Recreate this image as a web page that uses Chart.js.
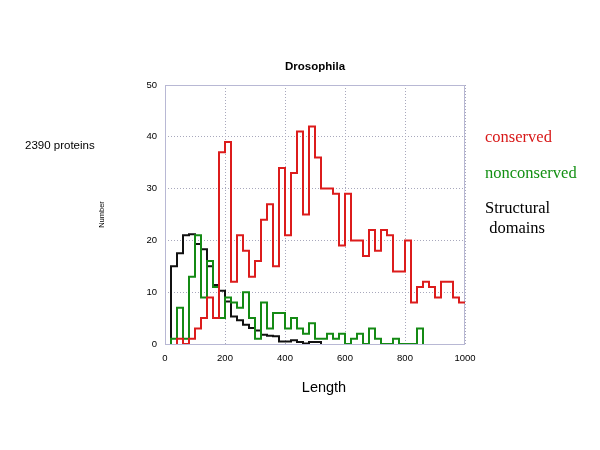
<!DOCTYPE html>
<html>
<head>
<meta charset="utf-8">
<script src="https://cdn.jsdelivr.net/npm/chart.js@4.4.0/dist/chart.umd.min.js"></script>
<style>
  body { margin: 0; background: #fff; }
  #wrap { position: relative; width: 600px; height: 450px; }
  .lbl { position: absolute; white-space: pre; line-height: 1; }
  .sans { font-family: "Liberation Sans", Arial, sans-serif; }
  .serif { font-family: "Liberation Serif", "Times New Roman", serif; font-size: 16.5px; }
</style>
</head>
<body>
<div id="wrap">
  <canvas id="lengthchart" width="600" height="450"></canvas>
  <div class="lbl sans" style="left:255px; top:61px; width:120px; text-align:center; font-size:11.5px; font-weight:bold;">Drosophila</div>
  <div class="lbl sans" style="left:25px; top:140px; font-size:11.5px;">2390 proteins</div>
  <div class="lbl sans" style="left:294px; top:380px; width:60px; text-align:center; font-size:14.5px;">Length</div>
  <div class="lbl serif" style="left:485px; top:129px; color:#d81818;">conserved</div>
  <div class="lbl serif" style="left:485px; top:165px; color:#139013;">nonconserved</div>
  <div class="lbl serif" style="left:485px; top:200px; color:#000;">Structural</div>
  <div class="lbl serif" style="left:485px; top:220px; color:#000;"> domains</div>
</div>
<script>
// histogram bins of 20 residues starting at 0
var binWidth = 20;
var xMax = 1000;
var yMax = 50;

var conserved = [0, 0, 1, 0, 1, 3, 5, 9, 5, 37, 39, 12, 21, 18, 13, 16, 24, 27, 15, 34,
    21, 33, 41, 25, 42, 36, 30, 30, 29, 19, 29, 20, 20, 17, 22, 18, 22, 21, 14, 14,
    20, 8, 11, 12, 11, 9, 12, 12, 9, 8];
var nonconserved = [0, 1, 7, 1, 13, 21, 9, 16, 11, 5, 9, 8, 7, 10, 5, 1, 8, 3, 6, 6,
    3, 5, 3, 2, 4, 1, 1, 2, 1, 2, 0, 1, 2, 0, 3, 1, 0, 0, 1, 0,
    0, 0, 3];
var structural = [0, 15, 17.5, 21, 21.2, 19.3, 18.3, 15, 11.4, 10.3, 8.2, 5.3, 4.6, 3.7, 3.1, 2.6, 1.8, 1.6, 1.5, 0.5,
    0.5, 0.7, 0.4, 0.1, 0.4, 0.4];

// turn bin counts into step outline points
function steps(vals) {
    var pts = [];
    var first = vals.findIndex(function (v) { return v > 0; });
    pts.push({x: first * binWidth, y: 0});
    for (var i = first; i < vals.length; i++) {
        pts.push({x: i * binWidth, y: vals[i]});
    }
    var end = vals.length * binWidth;
    pts.push({x: end, y: vals[vals.length - 1]});
    if (end < xMax) pts.push({x: end, y: 0});
    return pts;
}

var framePlugin = {
    id: 'frame',
    beforeDatasetsDraw: function (chart) {
        var a = chart.chartArea, ctx = chart.ctx;
        ctx.save();
        ctx.strokeStyle = '#b8b8d4';
        ctx.lineWidth = 1;
        ctx.strokeRect(Math.round(a.left) + 0.5, Math.round(a.top) + 0.5,
            Math.round(a.right - a.left) - 1, Math.round(a.bottom - a.top));
        ctx.restore();
    }
};

var tickFont = {family: "'Liberation Sans', Arial, sans-serif", size: 9.5};

var chart1 = document.getElementById("lengthchart");
var myChart1 = new Chart(chart1, {
    type: 'line',
    data: {
        datasets: [{
            label: 'conserved',
            data: steps(conserved),
            borderColor: '#dc1c1c',
            borderWidth: 2,
            stepped: 'before',
            pointRadius: 0,
            fill: false
        }, {
            label: 'nonconserved',
            data: steps(nonconserved),
            borderColor: '#148a14',
            borderWidth: 2,
            stepped: 'before',
            pointRadius: 0,
            fill: false
        }, {
            label: 'Structural domains',
            data: steps(structural),
            borderColor: '#111111',
            borderWidth: 2,
            stepped: 'before',
            pointRadius: 0,
            fill: false
        }]
    },
    options: {
        responsive: false,
        animation: false,
        layout: {
            padding: {left: 95, right: 135, top: 85, bottom: 76}
        },
        plugins: {
            legend: {display: false},
            tooltip: {enabled: false}
        },
        scales: {
            x: {
                type: 'linear',
                min: 0,
                max: xMax,
                afterFit: function (s) { s.height = 30; },
                ticks: {
                    stepSize: 200,
                    padding: 9,
                    maxRotation: 0,
                    color: '#000',
                    font: tickFont,
                    callback: function (v) { return String(v); }
                },
                grid: {color: '#a8a8bc', drawTicks: false},
                border: {display: false, dash: [1, 2]}
            },
            y: {
                min: 0,
                max: yMax,
                afterFit: function (s) { s.width = 70; },
                ticks: {
                    stepSize: 10,
                    padding: 8,
                    color: '#000',
                    font: tickFont
                },
                grid: {color: '#a8a8bc', drawTicks: false},
                border: {display: false, dash: [1, 2]},
                title: {
                    display: true,
                    text: 'Number',
                    color: '#000',
                    font: {family: "'Liberation Sans', Arial, sans-serif", size: 7.5},
                    padding: {top: 2, bottom: 0}
                }
            }
        }
    },
    plugins: [framePlugin]
});
</script>
</body>
</html>
